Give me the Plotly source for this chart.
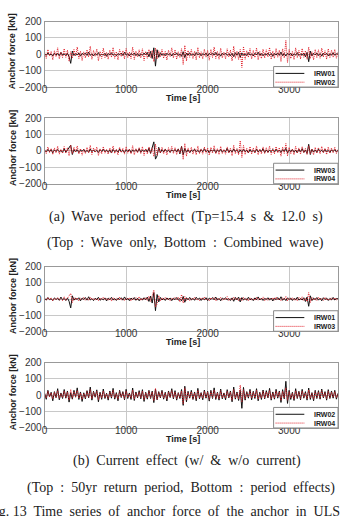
import plotly.graph_objects as go

# ---- data (anchor force, kN), sampled every 20 s over 0-3600 s ----
IRW01 = [3,-6,9,-4,2,-10,7,-3,5,-8,12,-5,4,-9,6,-14,-55,20,-7,5,
         -3,8,-11,6,-2,9,-7,14,-6,3,-10,5,-4,11,-8,2,-5,7,-12,6,
         -4,10,-6,3,-9,5,-2,8,-7,13,-5,4,-10,6,-3,9,-8,5,-11,4,
         -6,8,-4,12,-15,18,-25,40,-72,28,-18,10,-6,4,-9,7,-3,6,-10,5,
         -4,9,-7,3,-12,16,-20,8,-5,10,-6,4,-8,11,-3,6,-9,5,-4,8,
         -10,6,-3,9,-5,12,-7,4,-11,6,-2,8,-6,3,-9,7,-14,10,-5,12,
         -18,9,-6,4,-8,11,-5,3,-10,7,-4,13,-6,5,-9,4,-3,8,-7,6,
         -12,5,-4,9,-6,14,-8,5,-10,7,-3,6,-9,4,-5,11,-7,3,-6,8,
         -15,12,-45,20,-10,6,-4,9,-7,5,-11,8,-3,6,-9,4,-5,10,-6,3,2]
IRW02 = [12,-25,30,-10,18,-34,22,-15,40,-28,14,-20,35,-18,26,-42,16,-24,30,-12,
         45,-26,20,-38,15,-22,28,-16,50,-30,24,-12,33,-40,18,-25,38,-20,12,-30,
         26,-18,42,-24,16,-34,30,-14,22,-28,36,-20,14,-26,44,-32,20,-16,28,-22,
         34,-38,18,-24,30,-20,25,-45,38,-28,22,-16,30,-24,18,-35,26,-14,40,-22,
         28,-30,16,-20,35,-62,55,-40,24,-18,30,-26,20,-34,42,-22,16,-28,32,-18,
         24,-36,30,-20,45,-26,18,-30,38,-22,14,-28,34,-16,26,-40,50,-24,20,-32,
         30,-80,48,-30,22,-18,36,-28,24,-20,40,-34,18,-26,32,-22,28,-16,42,-30,
         20,-24,36,-18,26,-44,34,-22,85,-50,30,-26,18,-32,40,-20,24,-28,36,-18,
         22,-30,44,-26,16,-34,30,-20,28,-24,38,-16,22,-30,34,-20,26,-18,30,-24,12]
IRW03 = [4,-7,10,-5,8,-12,6,-4,9,-6,3,-10,14,-8,5,18,35,-22,9,-6,
         7,-11,5,-3,10,-8,4,-9,12,-5,6,-7,3,-10,8,-4,11,-6,5,-9,
         7,-13,9,-5,4,-8,12,-6,3,-10,7,-4,9,-11,5,-3,8,-7,14,-9,
         6,-5,10,-8,18,-15,30,55,-50,-30,22,-12,8,-6,10,-5,4,-9,7,-3,
         9,-6,12,-18,28,-24,15,-8,6,-10,5,-4,11,-7,3,-9,8,-5,13,-6,
         4,-10,7,-3,9,-12,6,-5,10,-8,4,-6,15,-9,5,-7,12,-4,8,-11,
         6,-9,10,-5,4,-12,8,-6,3,-9,11,-7,5,-4,13,-10,6,-8,4,-5,
         9,-7,12,-6,5,-10,8,-4,16,-12,7,-5,9,-8,4,-11,10,-6,14,-9,
         5,-16,40,-22,10,-7,6,-9,12,-5,4,-8,10,-6,3,-9,7,-4,8,-6,3]
IRW04 = [8,-16,24,-10,14,-22,18,-12,28,-20,10,-15,26,-14,20,-30,35,-18,22,-9,
         30,-18,14,-26,10,-16,22,-12,34,-22,18,-8,24,-28,12,-18,26,-14,9,-20,
         18,-12,30,-16,10,-24,22,-10,16,-20,26,-14,10,-18,32,-24,14,-12,20,-16,
         26,-28,14,-18,24,-14,20,-34,42,-26,16,-12,22,-18,12,-25,20,-10,28,-16,
         20,-22,12,-14,26,-52,45,-32,18,-14,22,-20,14,-24,30,-16,12,-20,24,-14,
         18,-26,22,-14,32,-18,14,-22,28,-16,10,-20,24,-12,18,-30,35,-18,14,-24,
         62,-40,34,-22,16,-12,26,-20,18,-14,30,-24,12,-18,24,-16,20,-12,30,-22,
         14,-18,26,-12,20,-32,24,-16,45,-30,22,-18,12,-24,28,-14,18,-20,26,-12,
         16,-22,32,-18,12,-24,22,-14,20,-18,28,-12,16,-22,24,-14,18,-12,22,-16,8]

SERIES = {"IRW01": IRW01, "IRW02": IRW02, "IRW03": IRW03, "IRW04": IRW04}
PANELS = [("IRW01", "IRW02"), ("IRW03", "IRW04"), ("IRW01", "IRW03"), ("IRW02", "IRW04")]
Y_TICKS = [-200, -100, 0, 100, 200]
X_TICKS = [0, 1000, 2000, 3000]
T_END = 3600

CAPTIONS = [
    "(a)  Wave  period  effect  (Tp=15.4  s  &  12.0  s)",
    "(Top  :  Wave  only,  Bottom  :  Combined  wave)",
    "(b)  Current  effect  (w/  &  w/o  current)",
    "(Top  :  50yr  return  period,  Bottom  :  period  effects)",
    "Fig. 13  Time  series  of  anchor  force  of  the  anchor  in  ULS",
]

W, H = 341, 516
def px_x(p):
    return p / W
def px_y(p):
    return 1 - p / H

panel_px = [(16, 83), (114.7, 182), (267, 333), (365, 432)]
x_dom = [px_x(42), px_x(338)]

def tvec(vals):
    n = len(vals)
    return [T_END * i / (n - 1) for i in range(n)]

BLACK = dict(color="#111111", width=1)
RED = dict(color="#e0202a", width=1, dash="1px,1px")
styles = [BLACK, RED]
TICKFONT = dict(family="Liberation Sans", size=10, color="#333")

fig = go.Figure()
for k, (a, b) in enumerate(PANELS):
    sfx = "" if k == 0 else str(k + 1)
    for j, name in enumerate((a, b)):
        vals = SERIES[name]
        fig.add_trace(go.Scatter(
            x=tvec(vals), y=vals, mode="lines", name=name, line=styles[j],
            xaxis="x" + sfx, yaxis="y" + sfx, showlegend=False))
    top, bot = panel_px[k]
    fig.layout["yaxis" + sfx] = dict(
        domain=[px_y(bot), px_y(top)], range=[-200, 200], tickvals=Y_TICKS,
        showgrid=True, gridcolor="#c8c8c8", gridwidth=1, zeroline=False,
        showline=True, linecolor="#999", mirror=True, anchor="x" + sfx,
        tickfont=TICKFONT, ticks="")
    fig.layout["xaxis" + sfx] = dict(
        domain=x_dom, range=[0, T_END], tickvals=X_TICKS,
        showgrid=True, gridcolor="#c8c8c8", gridwidth=1, zeroline=False,
        showline=True, linecolor="#999", mirror=True, anchor="y" + sfx,
        tickfont=TICKFONT, ticks="", ticklabelstandoff=-7)
    # axis titles
    fig.add_annotation(text="<b>Anchor force [kN]</b>", x=px_x(10), y=px_y((top + bot) / 2 - 3),
                       xref="paper", yref="paper", textangle=-90, showarrow=False,
                       xanchor="center", yanchor="middle",
                       font=dict(family="Liberation Sans", size=9, color="#222"))
    fig.add_annotation(text="<b>Time [s]</b>", x=px_x(182), y=px_y(bot + 11),
                       xref="paper", yref="paper", showarrow=False,
                       xanchor="center", yanchor="middle",
                       font=dict(family="Liberation Sans", size=9, color="#222"))
    # compact legend box (lower right)
    lx0, lx1 = 273, 338
    fig.add_shape(type="rect", xref="paper", yref="paper",
                  x0=px_x(lx0), x1=px_x(lx1), y0=px_y(bot), y1=px_y(bot - 21),
                  fillcolor="white", line=dict(color="#888", width=1), layer="above")
    for j, name in enumerate((a, b)):
        ry = bot - 14 + 9 * j
        fig.add_shape(type="line", xref="paper", yref="paper",
                      x0=px_x(275), x1=px_x(304), y0=px_y(ry), y1=px_y(ry),
                      line=styles[j], layer="above")
        fig.add_annotation(text="<b>" + name + "</b>", x=px_x(336), y=px_y(ry),
                           xref="paper", yref="paper", showarrow=False,
                           xanchor="right", yanchor="middle", borderpad=0,
                           font=dict(family="Liberation Sans", size=7, color="#222"))

cap_pos = [(185, 216), (184, 243), (186, 466), (180, 493)]
for txt, (cx, cy) in zip(CAPTIONS[:4], cap_pos):
    fig.add_annotation(text=txt, x=px_x(cx), y=px_y(cy), xref="paper", yref="paper",
                       showarrow=False, xanchor="center", yanchor="middle",
                       font=dict(family="Liberation Serif", size=14, color="#222"))
fig.add_annotation(text=CAPTIONS[4], x=px_x(342), y=px_y(518), xref="paper", yref="paper",
                   showarrow=False, xanchor="right", yanchor="middle",
                   font=dict(family="Liberation Serif", size=14, color="#222"))

fig.update_layout(width=W, height=H, margin=dict(l=0, r=0, t=0, b=0),
                  paper_bgcolor="white", plot_bgcolor="white")
fig.write_html("out.html")
